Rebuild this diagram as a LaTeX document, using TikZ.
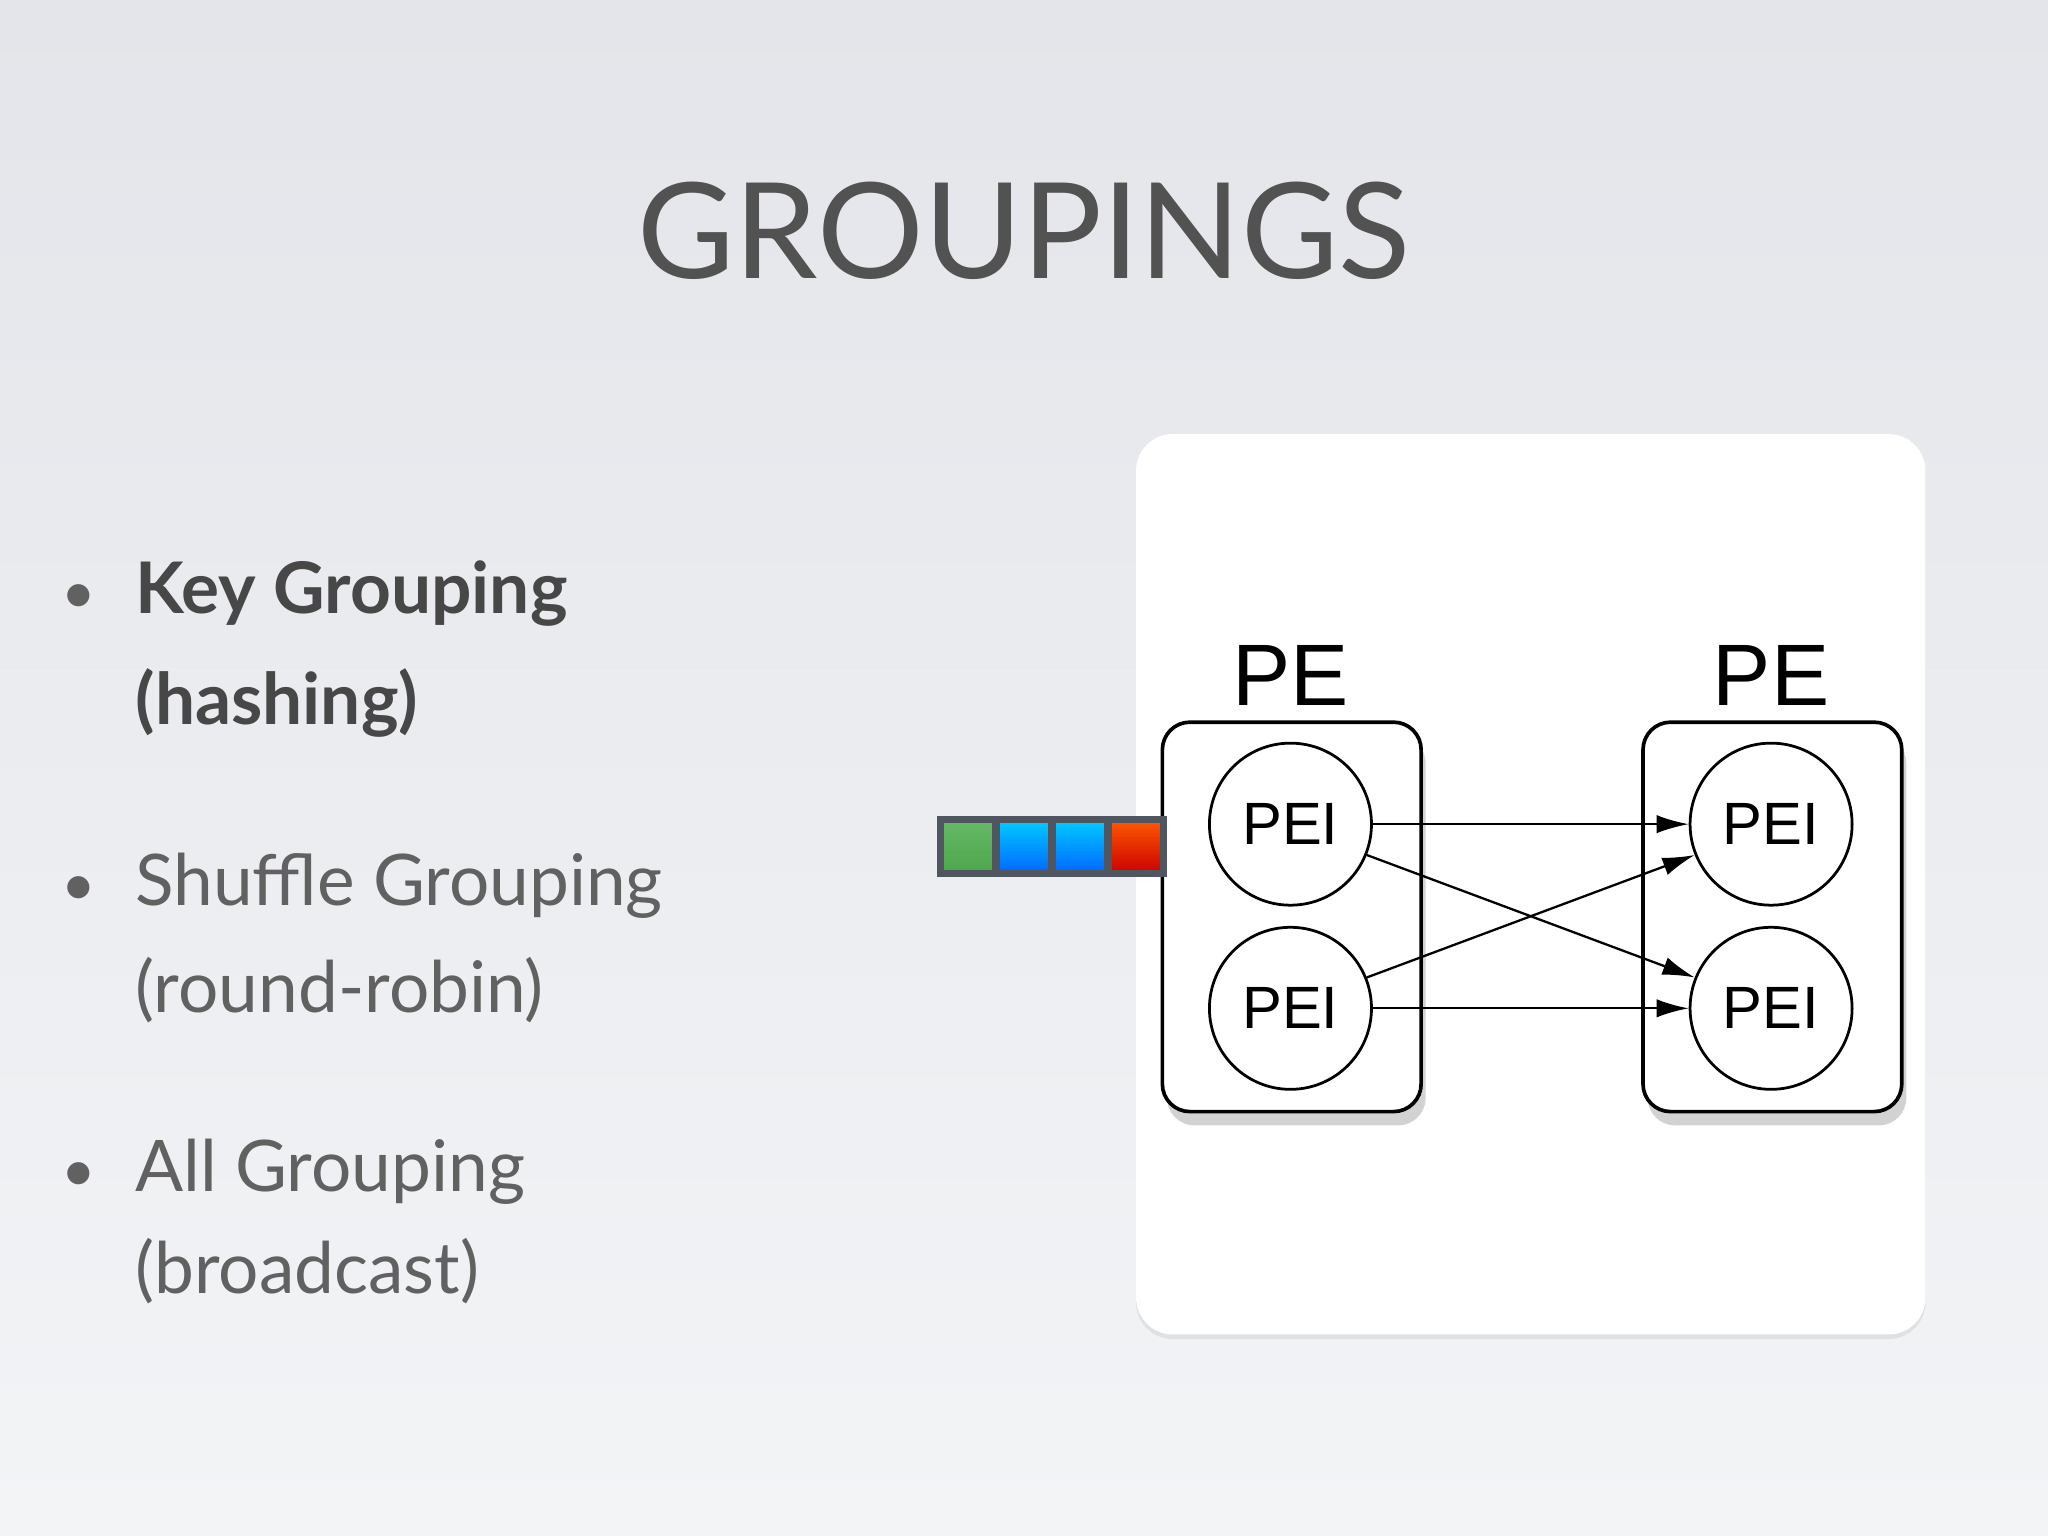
\documentclass[tikz,border=0pt]{standalone}
\usepackage{fontspec}
\setmainfont{Lato}
\newfontfamily\arial{Liberation Sans}
\usetikzlibrary{arrows.meta,shadows}
\definecolor{bgtop}{HTML}{E3E5EA}
\definecolor{bgbot}{HTML}{F3F4F6}
\definecolor{sqb}{HTML}{4F5660}
\begin{document}
\begin{tikzpicture}[x=0.01cm,y=-0.01cm,
  pebox/.style={draw,line width=0.8pt,rounded corners=6,fill=white,drop shadow={shadow xshift=1pt,shadow yshift=-3pt,opacity=0.35}},
  pei/.style={draw,circle,minimum size=1.24cm,inner sep=0,line width=0.6pt,font=\arial\fontsize{13}{13}\selectfont},
  pelbl/.style={font=\arial\fontsize{19}{19}\selectfont},
  conn/.style={-{Latex[length=7pt,width=4pt]},line width=0.5pt},
  sq/.style={draw=sqb,line width=1.5pt,minimum width=0.42cm,minimum height=0.41cm,inner sep=0},
  btxt/.style={anchor=base west,inner sep=0,font=\fontsize{15.5}{15.5}\selectfont}]
\shade[top color=bgtop,bottom color=bgbot] (0,0) rectangle (1568,1176);
\useasboundingbox (0,0) rectangle (1568,1176);
\node[anchor=base,text=black!68,font=\fontsize{29}{29}\selectfont] (title) at (784,213) {GROUPINGS};
\node[fill=white,rounded corners=8,minimum width=6.04cm,minimum height=6.89cm,inner sep=0,drop shadow={shadow xshift=0pt,shadow yshift=-1pt,opacity=0.15}] (panel) at (1172,677) {};
\foreach \i/\t/\y/\b in {k1/{Key Grouping}/470/1,k2/{(hashing)}/555/1,s1/{Shuffle Grouping}/693/0,s2/{(round-robin)}/775/0,a1/{All Grouping}/912/0,a2/{(broadcast)}/990/0}{
  \ifnum\b=1 \node[btxt,font=\fontsize{15.5}{15.5}\selectfont\bfseries,text=black!72] (\i) at (103,\y) {\t};
  \else \node[btxt,text=black!62] (\i) at (103,\y) {\t};\fi}
\foreach \n/\y in {b1/470,b2/693,b3/912}
  \node[anchor=base,text=black!62,font=\fontsize{13}{13}\selectfont] (\n) at (60,\y) {•};
\node[pebox,minimum width=1.98cm,minimum height=2.98cm] (L) at (989,702) {};
\node[pebox,minimum width=1.98cm,minimum height=2.98cm] (R) at (1357,702) {};
\node[pelbl] (Ll) at (988,517) {PE};
\node[pelbl] (Rl) at (1356,517) {PE};
\node[pei] (a) at (988,631) {PEI};
\node[pei] (b) at (988,772) {PEI};
\node[pei] (c) at (1356,631) {PEI};
\node[pei] (d) at (1356,772) {PEI};
\draw[conn] (a) -- (c);
\draw[conn] (b) -- (d);
\draw[conn] (a.-22) -- (d.158);
\draw[conn] (b.22) -- (c.-158);
\node[sq,top color=green!55!black!60!white,bottom color=green!50!black!70] (q1) at (741,648) {};
\node[sq,top color=cyan!80!blue,bottom color=blue!60!cyan] (q2) at (784,648) {};
\node[sq,top color=cyan!80!blue,bottom color=blue!60!cyan] (q3) at (827,648) {};
\node[sq,top color=orange!70!red,bottom color=red!80!black] (q4) at (870,648) {};
\end{tikzpicture}
\end{document}
